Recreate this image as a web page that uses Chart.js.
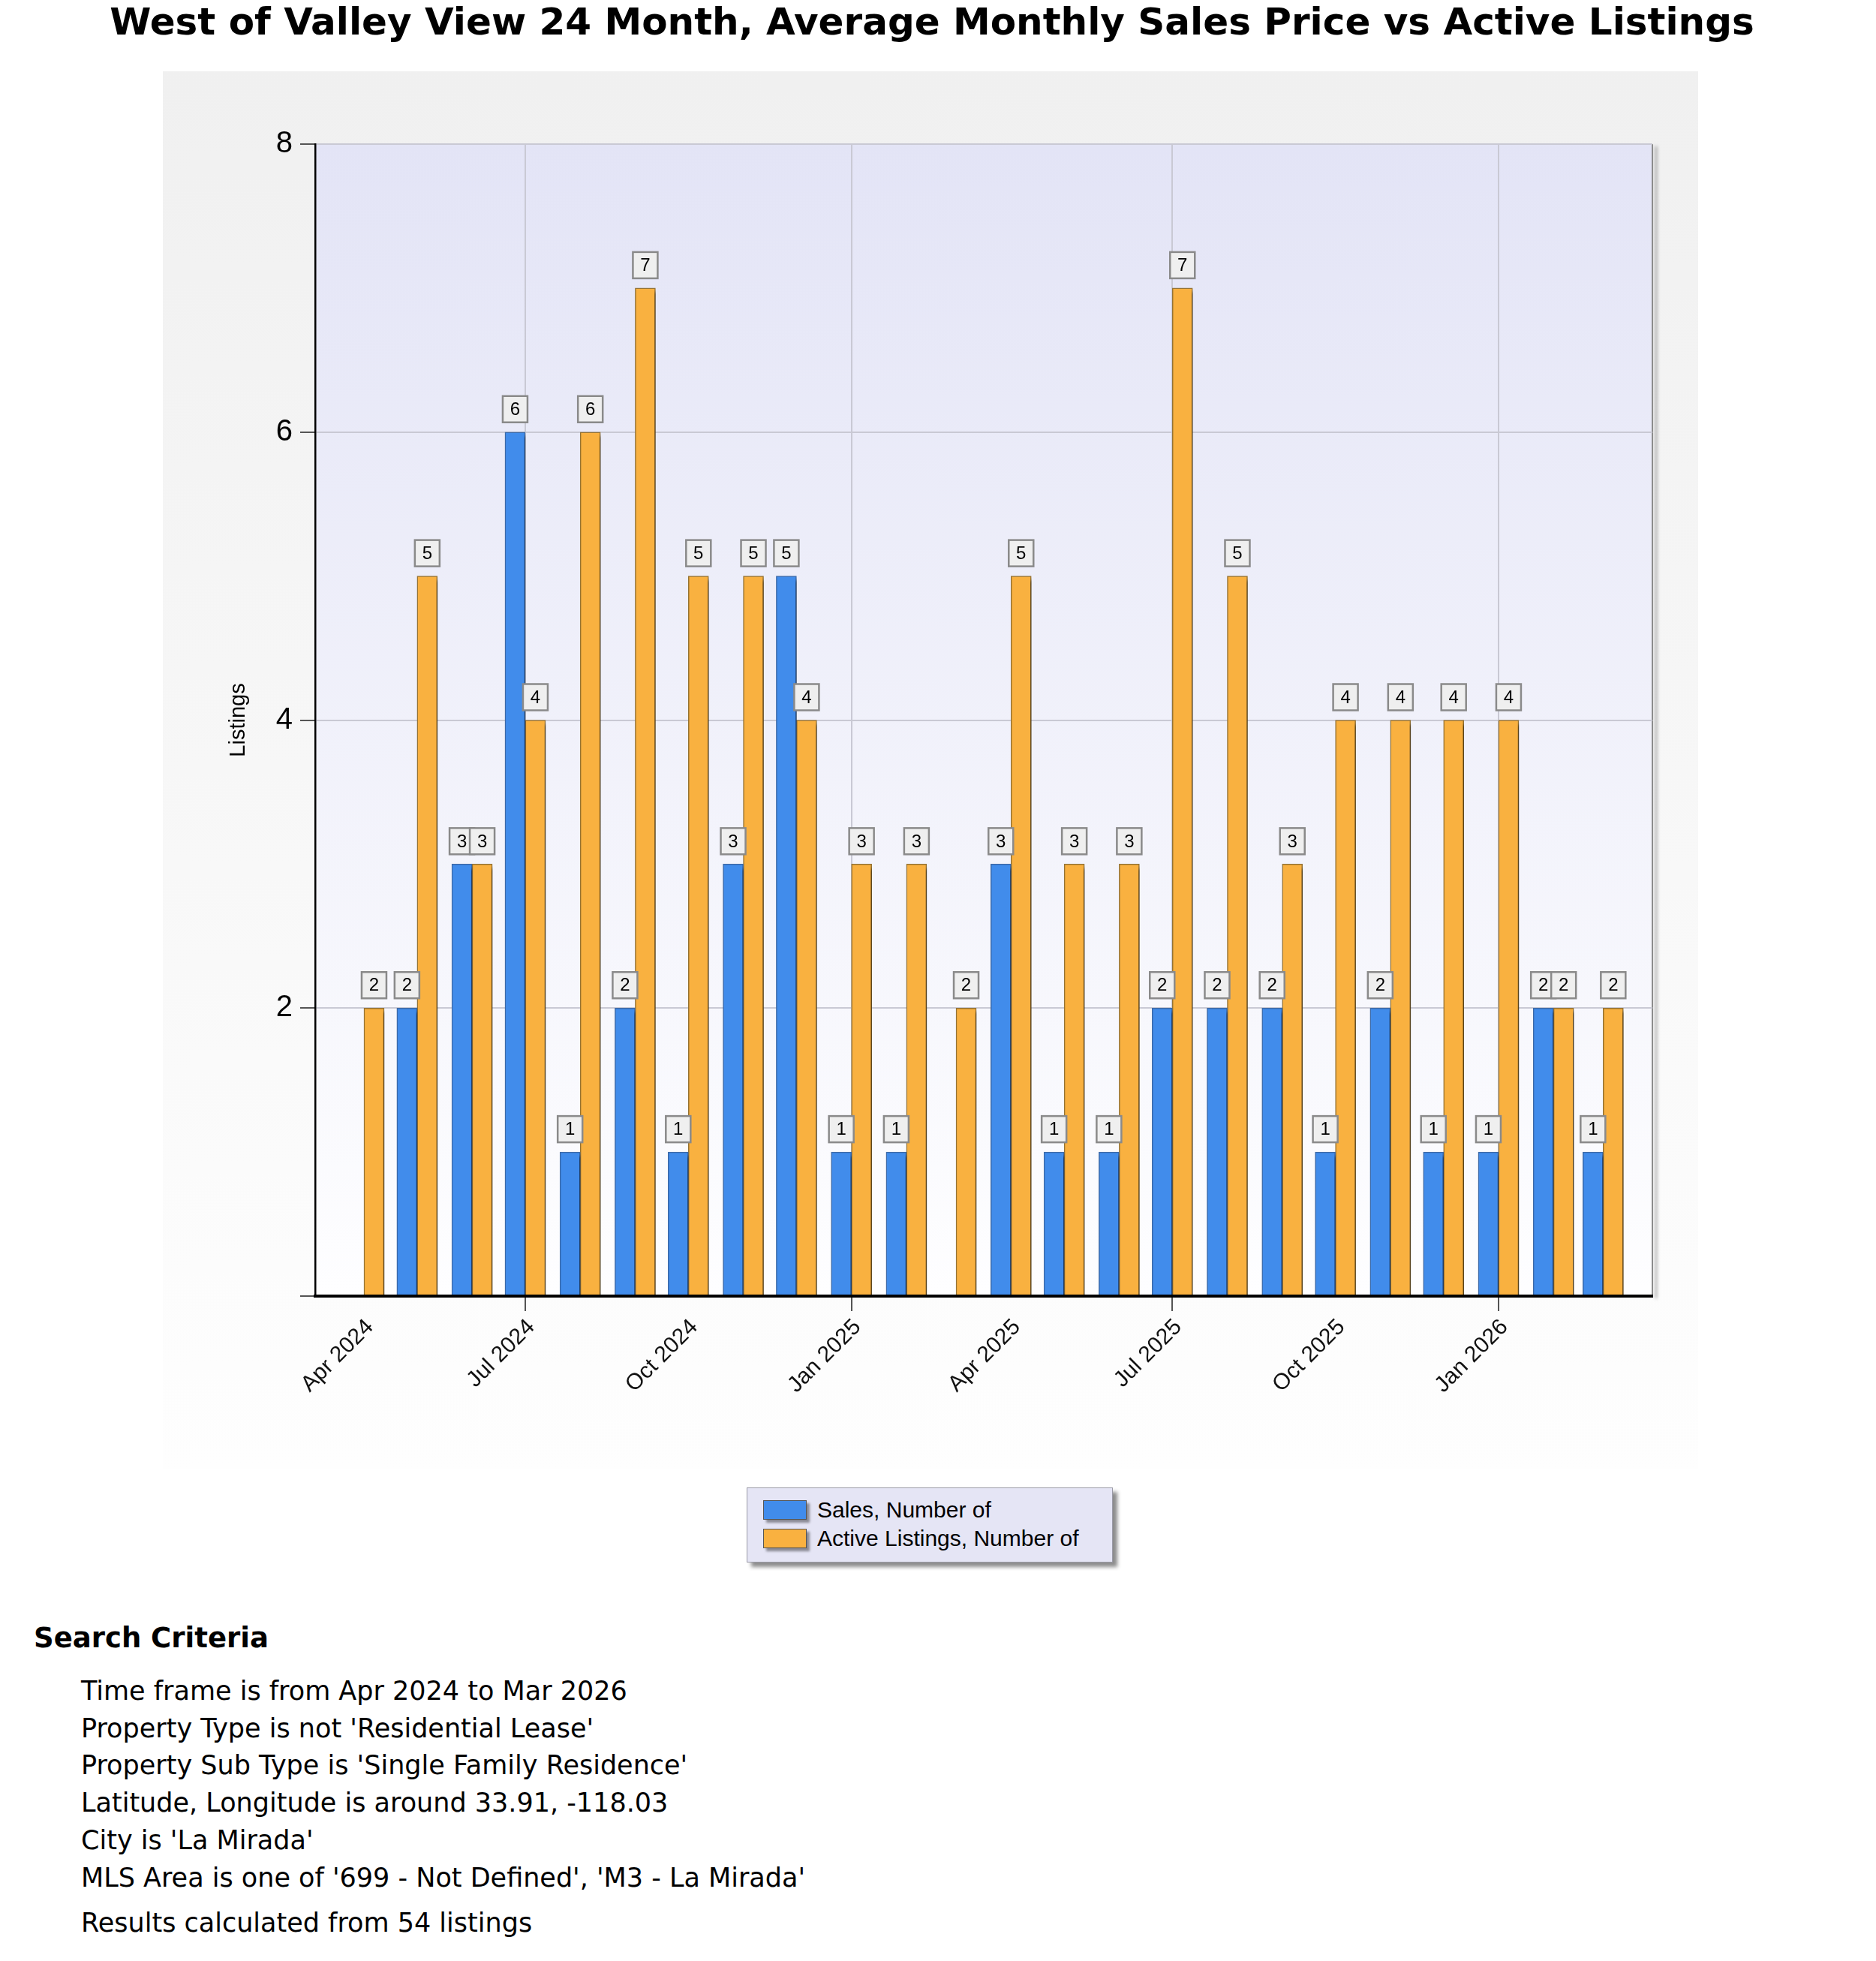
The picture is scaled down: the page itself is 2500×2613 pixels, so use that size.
<!DOCTYPE html>
<html>
<head>
<meta charset="utf-8">
<title>West of Valley View 24 Month</title>
<script src="https://cdn.jsdelivr.net/npm/chart.js@4.4.1/dist/chart.umd.min.js"></script>
<style>
  html, body { margin: 0; padding: 0; background: #fff; }
  body { width: 2500px; height: 2613px; position: relative; overflow: hidden;
         font-family: "DejaVu Sans", Verdana, sans-serif; color: #000; }
  #title { position: absolute; left: 0; top: 0; width: 2484px; text-align: center;
           font-weight: bold; font-size: 50px; line-height: 58px; white-space: nowrap; }
  #panel { position: absolute; left: 217px; top: 95px; width: 2046px; height: 1863px;
           background: linear-gradient(#f0f0f0, #fefefe); }
  #legend { position: absolute; left: 995px; top: 1982px; width: 486px; height: 98px;
            background: #e5e5f5; border: 1px solid #9a9aa6;
            box-shadow: 6px 6px 5px rgba(0,0,0,0.45);
            font-family: "Liberation Sans", Arial, sans-serif; font-size: 30px; }
  .item { position: absolute; left: 21px; height: 38px; line-height: 38px; white-space: nowrap; }
  .swatch { position: absolute; left: 0; top: 6px; width: 56px; height: 24px;
            border: 1px solid #555; box-shadow: 4px 4px 3px rgba(0,0,0,0.4); }
  .item span { position: absolute; left: 72px; top: 0; }
  #critHead { position: absolute; left: 45px; top: 2161px; font-weight: bold;
              font-size: 37px; line-height: 44px; white-space: nowrap; }
  .crit { position: absolute; left: 108px; font-size: 35px; line-height: 44px; white-space: nowrap; }
</style>
</head>
<body>
<div id="title">West of Valley View 24 Month, Average Monthly Sales Price vs Active Listings</div>
<div id="panel"><canvas id="chart" width="2046" height="1863"></canvas></div>
<div id="legend"></div>
<div id="critHead">Search Criteria</div>
<div class="crit" style="top:2231px">Time frame is from Apr 2024 to Mar 2026</div>
<div class="crit" style="top:2281px">Property Type is not 'Residential Lease'</div>
<div class="crit" style="top:2330px">Property Sub Type is 'Single Family Residence'</div>
<div class="crit" style="top:2380px">Latitude, Longitude is around 33.91, -118.03</div>
<div class="crit" style="top:2430px">City is 'La Mirada'</div>
<div class="crit" style="top:2480px">MLS Area is one of '699 - Not Defined', 'M3 - La Mirada'</div>
<div class="crit" style="top:2540px">Results calculated from 54 listings</div>
<script>
// values
const MONTHS = ['Apr 2024', 'May 2024', 'Jun 2024', 'Jul 2024', 'Aug 2024', 'Sep 2024',
                'Oct 2024', 'Nov 2024', 'Dec 2024', 'Jan 2025', 'Feb 2025', 'Mar 2025',
                'Apr 2025', 'May 2025', 'Jun 2025', 'Jul 2025', 'Aug 2025', 'Sep 2025',
                'Oct 2025', 'Nov 2025', 'Dec 2025', 'Jan 2026', 'Feb 2026', 'Mar 2026'];
const SALES  = [0, 2, 3, 6, 1, 2, 1, 3, 5, 1, 1, 0, 3, 1, 1, 2, 2, 2, 1, 2, 1, 1, 2, 1];
const ACTIVE = [2, 5, 3, 4, 6, 7, 5, 5, 4, 3, 3, 2, 5, 3, 3, 7, 5, 3, 4, 4, 4, 4, 2, 2];
const SERIES_NAMES = ['Sales, Number of', 'Active Listings, Number of'];
const X_LABELLED = ['Apr 2024', 'Jul 2024', 'Oct 2024', 'Jan 2025',
                    'Apr 2025', 'Jul 2025', 'Oct 2025', 'Jan 2026'];
const X_GRIDDED = ['Jul 2024', 'Jan 2025', 'Jul 2025', 'Jan 2026'];
const Y_TICKS = [0, 2, 4, 6, 8];

const BLUE = '#418ceb';
const ORANGE = '#f9b140';
const GRID = '#c9c9d4';

// the x axis is a date axis: place each month by its day count from the first month
const DAY = 86400000;
const t0 = Date.parse('1 ' + MONTHS[0]);
const dayOf = m => Math.round((Date.parse('1 ' + m) - t0) / DAY);
const MONTH_DAYS = MONTHS.map(dayOf);
const labelFor = v => MONTHS[MONTH_DAYS.indexOf(v)];

// --- plugins ---
const plotBackdrop = {
    id: 'plotBackdrop',
    beforeDraw(chart) {
        const { ctx, chartArea: a } = chart;
        const g = ctx.createLinearGradient(0, a.top, 0, a.bottom);
        g.addColorStop(0, '#e3e4f6');
        g.addColorStop(1, '#fefeff');
        ctx.save();
        ctx.fillStyle = g;
        ctx.fillRect(a.left, a.top, a.right - a.left, a.bottom - a.top);
        // right edge with drop shadow
        ctx.shadowColor = 'rgba(0,0,0,0.45)';
        ctx.shadowOffsetX = 5;
        ctx.shadowOffsetY = 3;
        ctx.shadowBlur = 4;
        ctx.fillStyle = '#8c8c8c';
        ctx.fillRect(a.right - 1, a.top, 2, a.bottom - a.top);
        ctx.restore();
    }
};

const barShadow = {
    id: 'barShadow',
    beforeDatasetsDraw(chart) {
        const ctx = chart.ctx;
        ctx.save();
        ctx.shadowColor = 'rgba(0,0,0,0.42)';
        ctx.shadowOffsetX = 5;
        ctx.shadowOffsetY = 5;
        ctx.shadowBlur = 4;
    },
    afterDatasetsDraw(chart) {
        chart.ctx.restore();
    }
};

const valueLabels = {
    id: 'valueLabels',
    afterDatasetsDraw(chart) {
        const ctx = chart.ctx;
        ctx.save();
        ctx.font = '24px "Liberation Sans", Arial, sans-serif';
        ctx.textAlign = 'center';
        ctx.textBaseline = 'middle';
        chart.data.datasets.forEach((ds, i) => {
            chart.getDatasetMeta(i).data.forEach((bar, j) => {
                const v = ds.data[j].y;
                if (!v) return;
                const w = 33, h = 35;
                const bottom = bar.y - 13;
                ctx.fillStyle = '#efefef';
                ctx.fillRect(bar.x - w / 2, bottom - h, w, h);
                ctx.strokeStyle = '#8a8a8a';
                ctx.lineWidth = 2.5;
                ctx.strokeRect(bar.x - w / 2, bottom - h, w, h);
                ctx.fillStyle = '#000';
                ctx.fillText(String(v), bar.x, bottom - h / 2 + 1);
            });
        });
        ctx.restore();
    }
};

const isGridded = c => !!c.tick && X_GRIDDED.includes(labelFor(c.tick.value));

// --- chart ---
const chart = new Chart(document.getElementById('chart'), {
    type: 'bar',
    data: {
        datasets: [{
            label: SERIES_NAMES[0],
            data: SALES.map((v, i) => ({ x: MONTH_DAYS[i], y: v })),
            backgroundColor: BLUE,
            borderColor: '#3b69a8',
            borderWidth: 1.5,
            barThickness: 27,
            clip: false
        }, {
            label: SERIES_NAMES[1],
            data: ACTIVE.map((v, i) => ({ x: MONTH_DAYS[i], y: v })),
            backgroundColor: ORANGE,
            borderColor: '#957232',
            borderWidth: 1.5,
            barThickness: 27,
            clip: false
        }]
    },
    options: {
        responsive: false,
        animation: false,
        layout: { padding: { left: 0, right: 61, top: 97, bottom: 0 } },
        plugins: { legend: { display: false }, tooltip: { enabled: false } },
        scales: {
            x: {
                type: 'linear',
                bounds: 'data',
                offset: false,
                min: -27.5,
                max: 726.8,
                afterBuildTicks: s => { s.ticks = X_LABELLED.map(m => ({ value: dayOf(m) })); },
                afterFit: s => { s.height = 231; },
                ticks: {
                    callback: v => labelFor(v),
                    autoSkip: false,
                    minRotation: 45,
                    maxRotation: 45,
                    padding: 4,
                    labelOffset: 8,
                    color: '#111',
                    font: { family: '"Liberation Sans", Arial, sans-serif', size: 30 }
                },
                grid: {
                    offset: false,
                    color: c => isGridded(c) ? GRID : 'rgba(0,0,0,0)',
                    tickColor: c => isGridded(c) ? '#555' : 'rgba(0,0,0,0)',
                    lineWidth: 2,
                    tickWidth: 2,
                    tickLength: 20
                },
                border: { color: '#000', width: 4, z: 1 }
            },
            y: {
                min: 0,
                max: 8,
                afterBuildTicks: s => { s.ticks = Y_TICKS.map(v => ({ value: v })); },
                afterFit: s => { s.width = 203; },
                ticks: {
                    callback: v => v === 0 ? '' : String(v),
                    padding: 10,
                    color: '#000',
                    font: { family: '"Liberation Sans", Arial, sans-serif', size: 40 }
                },
                grid: {
                    color: GRID,
                    lineWidth: 2,
                    tickColor: '#555',
                    tickWidth: 2,
                    tickLength: 20
                },
                border: { color: '#000', width: 2.5 },
                title: {
                    display: true,
                    text: 'Listings',
                    color: '#000',
                    font: { family: '"Liberation Sans", Arial, sans-serif', size: 29 },
                    padding: { top: 84, bottom: 0 }
                }
            }
        }
    },
    plugins: [plotBackdrop, barShadow, valueLabels]
});

// --- legend (HTML, from the chart's datasets) ---
const legend = document.getElementById('legend');
chart.data.datasets.forEach((ds, i) => {
    const item = document.createElement('div');
    item.className = 'item';
    item.style.top = (10 + i * 38) + 'px';
    item.innerHTML = '<div class="swatch" style="background:' + ds.backgroundColor + '"></div><span></span>';
    item.querySelector('span').textContent = ds.label;
    legend.appendChild(item);
});
</script>
</body>
</html>
